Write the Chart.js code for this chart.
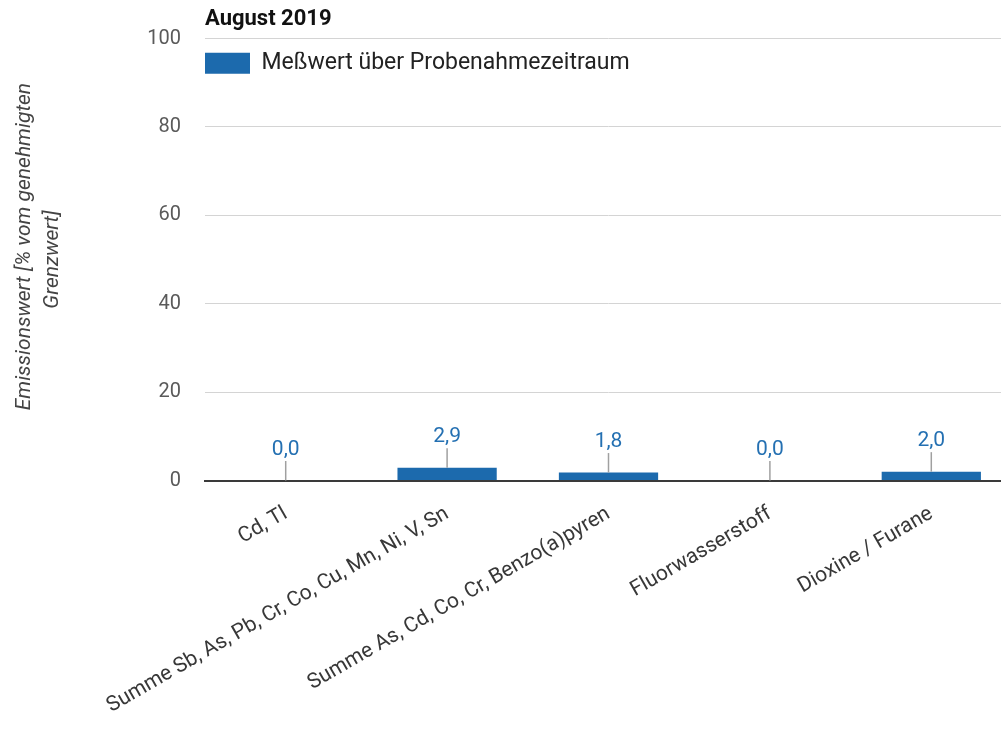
<!DOCTYPE html>
<html>
<head>
<meta charset="utf-8">
<script src="https://cdn.jsdelivr.net/npm/chart.js@4/dist/chart.umd.min.js"></script>
<style>
  html, body { margin: 0; padding: 0; background: #fff; overflow: hidden; }
  #wrap { position: relative; width: 1012px; height: 731px; }
</style>
</head>
<body>
<div id="wrap"><canvas id="c"></canvas></div>
<script>
const chartTitle = 'August 2019';
const seriesName = 'Meßwert über Probenahmezeitraum';
const categories = [
  'Cd, Tl',
  'Summe Sb, As, Pb, Cr, Co, Cu, Mn, Ni, V, Sn',
  'Summe As, Cd, Co, Cr, Benzo(a)pyren',
  'Fluorwasserstoff',
  'Dioxine / Furane'
];
const values = [0.0, 2.9, 1.8, 0.0, 2.0];
const yTicks = [0, 20, 40, 60, 80, 100];
const yTitle = ['Emissionswert [% vom genehmigten', 'Grenzwert]'];

const BLUE = '#1c6aad';

const valueLabels = {
  id: 'valueLabels',
  afterDatasetsDraw(chart) {
    const ctx = chart.ctx;
    const meta = chart.getDatasetMeta(0);
    meta.data.forEach((bar, i) => {
      const x = bar.x, y = bar.y;
      ctx.save();
      ctx.strokeStyle = '#a0a0a0';
      ctx.lineWidth = 1.5;
      ctx.beginPath();
      ctx.moveTo(x, y);
      ctx.lineTo(x, y - 19.5);
      ctx.stroke();
      ctx.fillStyle = '#2470b2';
      ctx.font = '21px Roboto';
      ctx.textAlign = 'center';
      ctx.textBaseline = 'middle';
      ctx.fillText(values[i].toFixed(1).replace('.', ','), x, y - 31);
      ctx.restore();
    });
  }
};

const legendPlacer = {
  id: 'legendPlacer',
  afterLayout(chart) {
    const lg = chart.legend;
    if (!lg) return;
    const w = lg.width, h = lg.height;
    lg.left = chart.chartArea.left;
    lg.top = chart.chartArea.top + 13.2;
    lg.right = lg.left + w;
    lg.bottom = lg.top + h;
  }
};

new Chart(document.getElementById('c'), {
  type: 'bar',
  data: {
    labels: categories,
    datasets: [{
      label: seriesName,
      data: values,
      backgroundColor: BLUE,
      borderWidth: 0,
      categoryPercentage: 1,
      barPercentage: 0.615
    }]
  },
  options: {
    responsive: true,
    maintainAspectRatio: false,
    animation: false,
    layout: { padding: 0 },
    plugins: {
      title: {
        display: true,
        text: chartTitle,
        align: 'start',
        fullSize: false,
        color: '#111',
        font: { family: 'Roboto', size: 22, weight: 'bold', lineHeight: 1.2 },
        padding: { top: 6, bottom: 6.1 }
      },
      legend: {
        display: true,
        position: 'chartArea',
        align: 'start',
        labels: {
          boxWidth: 45,
          boxHeight: 21,
          padding: 0,
          color: '#222',
          font: { family: 'Roboto', size: 23 }
        }
      },
      tooltip: { enabled: false }
    },
    scales: {
      x: {
        grid: { display: false },
        border: { display: true, color: '#3a3a3a', width: 2 },
        ticks: {
          color: '#383838',
          font: { family: 'Roboto', size: 21 },
          minRotation: 30,
          maxRotation: 30,
          autoSkip: false,
          padding: 13
        },
        afterFit(scale) { scale.height = 250.5; }
      },
      y: {
        min: 0,
        max: 100,
        afterBuildTicks(scale) { scale.ticks = yTicks.map(v => ({ value: v })); },
        grid: { color: '#d4d4d4', lineWidth: 1, drawTicks: false },
        border: { display: false },
        ticks: {
          color: '#5a5a5a',
          font: { family: 'Roboto', size: 20 },
          padding: 24
        },
        title: {
          display: true,
          text: ['     ' + yTitle[0], yTitle[1]],
          color: '#444',
          font: { family: 'Roboto', size: 21, style: 'italic', lineHeight: 1.33 },
          padding: { top: 11, bottom: 0 }
        },
        afterFit(scale) { scale.width = 205; }
      }
    }
  },
  plugins: [valueLabels, legendPlacer]
});
</script>
</body>
</html>
